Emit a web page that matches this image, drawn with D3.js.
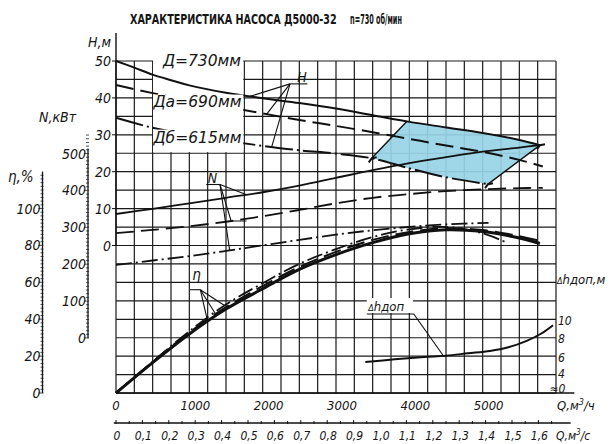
<!DOCTYPE html>
<html><head><meta charset="utf-8">
<script src="https://cdn.jsdelivr.net/npm/d3@7"></script>
<style>
body{margin:0;background:#fff}
svg text{font-family:"DejaVu Sans Condensed","DejaVu Sans",sans-serif;font-style:italic;fill:#151515}
svg text.ttl{font-style:normal;font-weight:bold}
</style></head><body><svg id="c" width="614" height="444"></svg>
<script>
// Pump Д5000-32 characteristic, n = 730 rpm
const titleMain = "ХАРАКТЕРИСТИКА НАСОСА Д5000-32";
const titleSpeed = "n=730 об/мин";

// axis ticks
const qTicksM3h = [0, 1000, 2000, 3000, 4000, 5000];
const qTicksM3s = [0, 0.1, 0.2, 0.3, 0.4, 0.5, 0.6, 0.7, 0.8, 0.9, 1.0, 1.1, 1.2, 1.3, 1.4, 1.5, 1.6];
const headTicks = [0, 10, 20, 30, 40, 50];
const powerTicks = [0, 100, 200, 300, 400, 500];
const effTicks = [0, 20, 40, 60, 80, 100];
const npshTicks = [4, 6, 8, 10];

// head H, m
const qHead730 = [0, 250, 500, 750, 1000, 1500, 2000, 2500, 3000, 3500, 4000, 4500, 5000, 5500, 5780];
const head730  = [50, 48.2, 46.3, 44.8, 43.4, 41.4, 39.9, 38.6, 37.1, 35.3, 33.5, 32.0, 30.5, 28.6, 27.2];
const qHead690 = [0, 500, 1000, 1500, 2000, 2500, 3000, 3500, 4000, 4500, 5000, 5500, 5820];
const head690  = [43.5, 41.3, 39.4, 37.6, 35.8, 34.0, 32.4, 30.7, 28.9, 27.1, 25.4, 23.2, 21.4];
const qHead615 = [0, 500, 1000, 1500, 2000, 2500, 3000, 3500, 4000, 4500, 5080];
const head615  = [34.6, 31.9, 30.0, 28.4, 27.0, 25.8, 24.9, 23.6, 20.9, 18.5, 16.6];

// shaft power N, kW
const qPower730 = [0, 500, 1000, 1500, 2000, 2500, 3000, 3500, 4000, 4500, 5000, 5500, 5780];
const power730  = [336, 350, 365, 380, 395, 413, 434, 455, 474, 490, 505, 516, 523];
const qPower690 = [0, 500, 1000, 1500, 2000, 2500, 3000, 3500, 4000, 4500, 5000, 5500, 5820];
const power690  = [284, 293, 303, 315, 330, 347, 365, 380, 390, 398, 403, 406, 407];
const qPower615 = [0, 500, 1000, 1500, 2000, 2500, 3000, 3500, 4000, 4500, 5080];
const power615  = [198, 210, 222, 236, 251, 266, 280, 292, 301, 308, 312];

// efficiency η, %
const qEff730 = [0, 500, 1000, 1500, 2000, 2500, 3000, 3500, 4000, 4500, 5000, 5500, 5780];
const eff730  = [0, 16.5, 32, 45.5, 56.5, 67, 75, 81.5, 86.3, 88.5, 87.5, 84, 81];
const qEff690 = [0, 500, 1000, 1500, 2000, 2500, 3000, 3500, 4000, 4500, 5000, 5500, 5820];
const eff690  = [0, 16.8, 32.8, 46.5, 58, 68.3, 76.5, 83, 87.3, 89.3, 88.3, 85, 82];
const qEff615 = [0, 500, 1000, 1500, 2000, 2500, 3000, 3500, 4000, 4500, 5000, 5300];
const eff615  = [0, 17, 33.5, 48, 59.5, 70, 78, 84.5, 88.7, 90, 86.5, 82];

// permissible cavitation reserve Δhдоп, m
const qNpsh = [3400, 3800, 4200, 4500, 4800, 5100, 5350, 5600, 5800, 5960];
const npsh  = [5.4, 5.7, 5.95, 6.1, 6.35, 6.6, 7.0, 7.7, 8.5, 9.4];

// recommended working zone (flow limits on the outer and the trimmed impeller)
const zoneQ730 = [3964, 5782];
const zoneQ615 = [3487, 5073];

const svg = d3.select("#c");
const x   = d3.scaleLinear([0, 6000], [116, 556]);
const yH  = d3.scaleLinear([0, 50], [245.5, 61]);
const yN  = d3.scaleLinear([0, 500], [338, 153.5]);
const yE  = d3.scaleLinear([0, 100], [393, 208.5]);
const yDh = d3.scaleLinear([4, 10], [375, 319.65]);
const xs  = d3.scaleLinear([0, 1], [x(0), x(3600)]);   // m³/s

const interp = (qs, vs) => q => {
  let i = d3.bisectRight(qs, q) - 1;
  i = Math.max(0, Math.min(qs.length - 2, i));
  const t = (q - qs[i]) / (qs[i + 1] - qs[i]);
  return vs[i] + t * (vs[i + 1] - vs[i]);
};

// grid: 250 m³/h by 5 m
const grid = svg.append("g").attr("stroke", "#1a1a1a").attr("stroke-width", 1.2);
d3.range(0, 6001, 250).forEach(q => grid.append("line")
  .attr("x1", x(q)).attr("x2", x(q)).attr("y1", yH(50)).attr("y2", yH(-40)));
d3.range(-40, 51, 5).forEach(h => grid.append("line")
  .attr("x1", x(0)).attr("x2", x(6000)).attr("y1", yH(h)).attr("y2", yH(h)));

// clear field for the impeller labels
svg.append("rect").attr("x", x(505)).attr("y", yH(51.5))
  .attr("width", x(1735) - x(505)).attr("height", yH(25.3) - yH(51.5)).attr("fill", "#fff");

// working zone
const zone = [];
d3.range(zoneQ730[0], zoneQ730[1] + 1, 30).forEach(q => zone.push([x(q), yH(interp(qHead730, head730)(q))]));
zone.push([x(zoneQ730[1]), yH(interp(qHead730, head730)(zoneQ730[1]))]);
d3.range(zoneQ615[1], zoneQ615[0] - 1, -30).forEach(q => zone.push([x(q), yH(interp(qHead615, head615)(q))]));
zone.push([x(zoneQ615[0]), yH(interp(qHead615, head615)(zoneQ615[0]))]);
svg.append("path").attr("d", "M" + zone.join("L") + "Z").attr("fill", "#97d4e6").attr("opacity", 0.92);
const pA = [x(zoneQ615[0]), yH(interp(qHead615, head615)(zoneQ615[0]))];
const pB = [x(zoneQ730[0]), yH(interp(qHead730, head730)(zoneQ730[0]))];
const pC = [x(zoneQ730[1]), yH(interp(qHead730, head730)(zoneQ730[1]))];
const pD = [x(zoneQ615[1]), yH(interp(qHead615, head615)(zoneQ615[1]))];
svg.append("path").attr("d", `M${pA}L${pB}M${pC}L${pD}`).attr("stroke", "#111").attr("stroke-width", 1.4).attr("fill", "none");
[pA, pC, pD].forEach(p => svg.append("path")
  .attr("d", `M${p[0] - 3},${p[1] + 4}L${p[0]},${p[1]}L${p[0] + 5},${p[1] - 1}`)
  .attr("stroke", "#111").attr("stroke-width", 2).attr("fill", "none"));

// curves
const line = (qs, vs, ys) => d3.line().curve(d3.curveCatmullRom.alpha(0.5))
  .x((d, i) => x(qs[i])).y((d, i) => ys(vs[i]))(vs);
const DASH = "18,7", DASHDOT = "16,4,2,4", LONGDASHDOT = "28,4,2,4";
const curves = [
  [qHead730, head730, yH, null, 2],
  [qHead690, head690, yH, DASH, 2],
  [qHead615, head615, yH, LONGDASHDOT, 2],
  [qPower730, power730, yN, null, 1.8],
  [qPower690, power690, yN, DASH, 1.8],
  [qPower615, power615, yN, DASHDOT, 1.8],
  [qEff615, eff615, yE, DASHDOT, 1.8],
  [qEff690, eff690, yE, DASH, 2],
  [qEff730, eff730, yE, null, 3],
  [qNpsh, npsh, yDh, null, 2]
];
curves.forEach(([qs, vs, ys, dash, w]) => svg.append("path")
  .attr("d", line(qs, vs, ys)).attr("fill", "none").attr("stroke", "#111")
  .attr("stroke-width", w).attr("stroke-dasharray", dash).attr("stroke-linecap", "butt"));

// text helper
function label(t, px, py, opt = {}) {
  const el = svg.append("text").attr("x", px).attr("y", py)
    .attr("font-size", opt.size || 13).attr("text-anchor", opt.anchor || "start").text(t);
  if (opt.len) el.attr("textLength", opt.len).attr("lengthAdjust", "spacingAndGlyphs");
  return el;
}
function whiteBox(x0, y0, w, h) {
  svg.append("rect").attr("x", x0).attr("y", y0).attr("width", w).attr("height", h).attr("fill", "#fff");
}

// title in a narrowed bold face
[[titleMain, 130, 207], [titleSpeed, 350, 52]].forEach(([t, px, w]) => {
  const el = svg.append("text").attr("class", "ttl").attr("font-size", 13.5).text(t);
  const k = w / el.node().getComputedTextLength();
  el.attr("transform", `translate(${px},24) scale(${k},1)`);
});

// impeller labels, each on a clear plate over the curves
whiteBox(x(505), yH(40.9), x(1735) - x(505), yH(36.4) - yH(40.9));
whiteBox(x(505), yH(31.4), x(1735) - x(505), yH(26.2) - yH(31.4));
label("Д=730мм", x(640), yH(48.6), {size: 15, len: 78});
label("Да=690мм", x(510), yH(37.4), {size: 15, len: 88});
label("Дб=615мм", x(510), yH(27.9), {size: 15, len: 88});

// head axis
svg.append("line").attr("x1", x(0)).attr("x2", x(0)).attr("y1", 33).attr("y2", yH(0)).attr("stroke", "#111").attr("stroke-width", 1.4);
headTicks.forEach(h => {
  svg.append("line").attr("x1", x(0) - 4).attr("x2", x(0)).attr("y1", yH(h)).attr("y2", yH(h)).attr("stroke", "#111");
  label(h, x(0) - 5, yH(h) + 5, {anchor: "end", size: 14});
});
label("Н,м", 88, 47, {size: 14});

// power axis
const axN = 88;
svg.append("line").attr("x1", axN).attr("x2", axN).attr("y1", yN(600) + 32).attr("y2", yN(0)).attr("stroke", "#111").attr("stroke-width", 1.3);
d3.range(0, 551, 10).forEach(n => svg.append("line").attr("x1", axN - (n % 100 ? 2 : 4)).attr("x2", axN + 1)
  .attr("y1", yN(n)).attr("y2", yN(n)).attr("stroke", "#222").attr("stroke-width", 0.8));
powerTicks.forEach(n => label(n, axN - 2, yN(n) + 5, {anchor: "end", size: 14}));
label("N,кВт", 39, 122, {size: 14});

// efficiency axis
const axE = 42.5;
svg.append("line").attr("x1", axE).attr("x2", axE).attr("y1", yE(120)).attr("y2", yE(0)).attr("stroke", "#111").attr("stroke-width", 1.3);
d3.range(0, 119, 2).forEach(e => svg.append("line").attr("x1", axE - (e % 20 ? 2 : 4)).attr("x2", axE + 1)
  .attr("y1", yE(e)).attr("y2", yE(e)).attr("stroke", "#222").attr("stroke-width", 0.8));
effTicks.forEach(e => label(e, axE - 2, yE(e) + 5, {anchor: "end", size: 14}));
label("η,%", 8, 182, {size: 15});

// Δh axis labels on the right
npshTicks.forEach(h => label(h, x(6000) + 2, yDh(h) + (h === 4 ? 3 : 5), {size: 12}));
label("≈0", x(5910), yE(0) - 0.5, {size: 12});
const dhTitle = label("", x(6000) + 1, 284, {size: 13});
dhTitle.append("tspan").text("Δ").attr("font-size", 9);
dhTitle.append("tspan").text("hдоп,м");

// flow axes
svg.append("line").attr("x1", x(0)).attr("x2", x(6250)).attr("y1", yE(0)).attr("y2", yE(0)).attr("stroke", "#111").attr("stroke-width", 1.5);
qTicksM3h.forEach(q => label(q, x(q) + (q ? 6 : 0), 410, {anchor: "middle", size: 13}));
const qh = label("Q,м", 557, 410, {size: 13});
qh.append("tspan").text("3").attr("font-size", 9).attr("dy", -5);
qh.append("tspan").text("/ч").attr("dy", 5);

const yS = 423;
svg.append("line").attr("x1", x(-30)).attr("x2", x(6200)).attr("y1", yS).attr("y2", yS).attr("stroke", "#111").attr("stroke-width", 1.3);
d3.range(0, 1.66, 0.05).forEach(v => svg.append("line").attr("x1", xs(v)).attr("x2", xs(v))
  .attr("y1", yS - (Math.round(v * 20) % 2 ? 2 : 3)).attr("y2", yS + 1).attr("stroke", "#111"));
qTicksM3s.forEach(v => label(d3.format(".1f")(v).replace(".", ",").replace(/^0,0$/, "0"), xs(v) + 1, 440, {anchor: "middle", size: 12}));
const qsLab = label("Q,м", 556, 440, {size: 12});
qsLab.append("tspan").text("3").attr("font-size", 8).attr("dy", -5);
qsLab.append("tspan").text("/с").attr("dy", 5);

// leader labels
const ink = svg.append("g").attr("stroke", "#111").attr("stroke-width", 1.1).attr("fill", "none");
// H
label("H", x(2470), yH(44.3), {size: 14});
const hRoot = [x(2373), yH(43.8)];
ink.append("path").attr("d", `M${hRoot}H${x(2610)}`);
[[qHead730, head730, 1827], [qHead690, head690, 2055], [qHead615, head615, 2123]].forEach(([qs, vs, q]) =>
  ink.append("path").attr("d", `M${hRoot}L${x(q)},${yH(interp(qs, vs)(q))}`));
// N
label("N", x(1250), yN(421), {size: 14});
const nRoot = [x(1418), yN(416)];
ink.append("path").attr("d", `M${x(1230)},${nRoot[1]}H${nRoot[0]}`);
ink.append("path").attr("d", `M${nRoot}L${x(1782)},${yN(interp(qPower730, power730)(1782))}`);
ink.append("path").attr("d", `M${nRoot}L${x(1570)},${yN(interp(qPower690, power690)(1570))}H${x(1780)}`);
ink.append("path").attr("d", `M${nRoot}L${x(1550)},${yN(interp(qPower615, power615)(1550))}`);
// η
label("η", x(1040), yE(61.5), {size: 15});
const eRoot = [x(1150), yE(56)];
ink.append("path").attr("d", `M${x(1010)},${eRoot[1]}H${eRoot[0]}`);
[[qEff615, eff615, 1480], [qEff690, eff690, 1360], [qEff730, eff730, 1250]].forEach(([qs, vs, q]) =>
  ink.append("path").attr("d", `M${eRoot}L${x(q)},${yE(interp(qs, vs)(q))}`));
// Δhдоп
whiteBox(x(3420), 298, x(4050) - x(3420), 15);
const dl = label("", x(3440), 311, {size: 13});
dl.append("tspan").text("Δ").attr("font-size", 9);
dl.append("tspan").text("hдоп");
ink.append("path").attr("d", `M${x(3420)},314H${x(4060)}L${x(4464)},${yDh(interp(qNpsh, npsh)(4464))}`);
</script></body></html>
